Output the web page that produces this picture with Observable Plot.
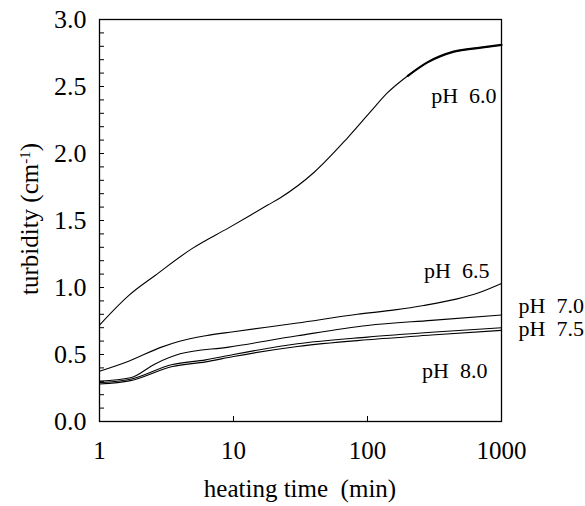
<!DOCTYPE html>
<html><head><meta charset="utf-8">
<script src="https://cdn.jsdelivr.net/npm/d3@7"></script>
<script src="https://cdn.jsdelivr.net/npm/@observablehq/plot@0.6"></script>
<style>
body{margin:0;background:#fff;}
svg, svg text { font-family: "Liberation Serif", "Times New Roman", Times, serif !important; }
</style>
</head><body><div id="chart"></div>
<script>
// heating time (min) and turbidity (cm^-1) per pH
const t60 = [1, 1.65, 2.6, 4.9, 9.2, 18, 22.4, 40, 70, 105, 140, 200, 280, 440, 700, 1000];
const v60 = [0.72, 0.94, 1.09, 1.29, 1.445, 1.615, 1.67, 1.86, 2.11, 2.31, 2.45, 2.58, 2.68, 2.76, 2.79, 2.81];
const t65 = [1, 1.65, 2.9, 3.9, 6.2, 10, 30, 84, 160, 263, 467, 660, 1000];
const v65 = [0.375, 0.45, 0.555, 0.597, 0.64, 0.67, 0.735, 0.80, 0.833, 0.866, 0.915, 0.957, 1.03];
const t70 = [1, 1.7, 2.6, 4, 9.2, 30, 100, 300, 1000];
const v70 = [0.30, 0.326, 0.43, 0.505, 0.555, 0.64, 0.717, 0.755, 0.795];
const t75 = [1, 1.7, 3.5, 6.2, 10, 30, 100, 300, 1000];
const v75 = [0.29, 0.315, 0.425, 0.46, 0.50, 0.58, 0.63, 0.666, 0.70];
const t80 = [1, 1.7, 3.5, 6.2, 10, 30, 100, 300, 1000];
const v80 = [0.28, 0.305, 0.41, 0.445, 0.485, 0.56, 0.61, 0.645, 0.68];

const phNames = ["6.0", "6.5", "7.0", "7.5", "8.0"];
const labelText = ["pH\u00a0 6.0", "pH\u00a0 6.5", "pH\u00a0 7.0", "pH\u00a0 7.5", "pH\u00a0 8.0"];
const labelT = [918, 813, 1339, 1339, 786];
const labelV = [2.43, 1.127, 0.866, 0.694, 0.38];
const labelSide = ["end", "end", "start", "start", "end"];

const xTicks = [1, 10, 100, 1000];
const xInnerTicks = [10, 100];
const yTicks = [0, 0.5, 1.0, 1.5, 2.0, 2.5, 3.0];
const yMinor = [0.1,0.2,0.3,0.4,0.5,0.6,0.7,0.8,0.9,1.0,1.1,1.2,1.3,1.4,1.5,1.6,1.7,1.8,1.9,2.0,2.1,2.2,2.3,2.4,2.5,2.6,2.7,2.8,2.9];

const seriesT = [t60, t65, t70, t75, t80];
const seriesV = [v60, v65, v70, v75, v80];
const rows = phNames.flatMap((ph, k) => seriesT[k].map((t, i) => ({ph, t, v: seriesV[k][i]})));
const labels = labelText.map((text, i) => ({text, t: labelT[i], v: labelV[i], side: labelSide[i]}));

const chart = Plot.plot({
  width: 585, height: 506,
  marginLeft: 99, marginRight: 84, marginTop: 19, marginBottom: 85,
  style: "font-family: 'Liberation Serif', serif; font-size: 25px; color: #000; background: #fff; overflow: visible;",
  x: {type: "log", domain: [1, 1000]},
  y: {domain: [0, 3]},
  marks: [
    Plot.axisX({ticks: xTicks, tickSize: 0, tickPadding: 20, tickFormat: d => String(d), fontSize: 25, label: null}),
    Plot.axisX({ticks: xInnerTicks, tickSize: 5, dy: -5, tickFormat: () => "", label: null}),
    Plot.axisY({ticks: yTicks, tickSize: 0, tickPadding: 13, tickFormat: d3.format(".1f"), fontSize: 26, label: null}),
    Plot.axisY({ticks: yMinor, tickSize: 5, dx: 5, tickFormat: () => "", label: null}),
    Plot.line(rows, {x: "t", y: "v", z: "ph", stroke: "#000", strokeWidth: 1.1, curve: "monotone-x"}),
    Plot.line(rows.filter(d => d.ph === "6.0" && d.t >= 200), {x: "t", y: "v", stroke: "#000", strokeWidth: 2.2, curve: "monotone-x"}),
    Plot.text(labels.filter(d => d.side === "end"), {x: "t", y: "v", text: "text", textAnchor: "end", fontSize: 22, fill: "#000"}),
    Plot.text(labels.filter(d => d.side === "start"), {x: "t", y: "v", text: "text", textAnchor: "start", fontSize: 22, fill: "#000"}),
    Plot.frame({stroke: "#000", strokeWidth: 1.3})
  ]
});
document.getElementById("chart").appendChild(chart);

const svg = d3.select(chart);
svg.append("text")
  .attr("x", 300).attr("y", 497)
  .attr("text-anchor", "middle")
  .attr("font-size", 25).attr("fill", "#000")
  .text("heating time\u00a0 (min)");
const yt = svg.append("text")
  .attr("transform", "translate(29,219) rotate(-90)")
  .attr("text-anchor", "middle").attr("dy", "0.35em")
  .attr("font-size", 25).attr("fill", "#000");
yt.append("tspan").text("turbidity (cm");
yt.append("tspan").attr("baseline-shift", "super").attr("font-size", 15).text("-1");
yt.append("tspan").text(")");
</script>
</body></html>
